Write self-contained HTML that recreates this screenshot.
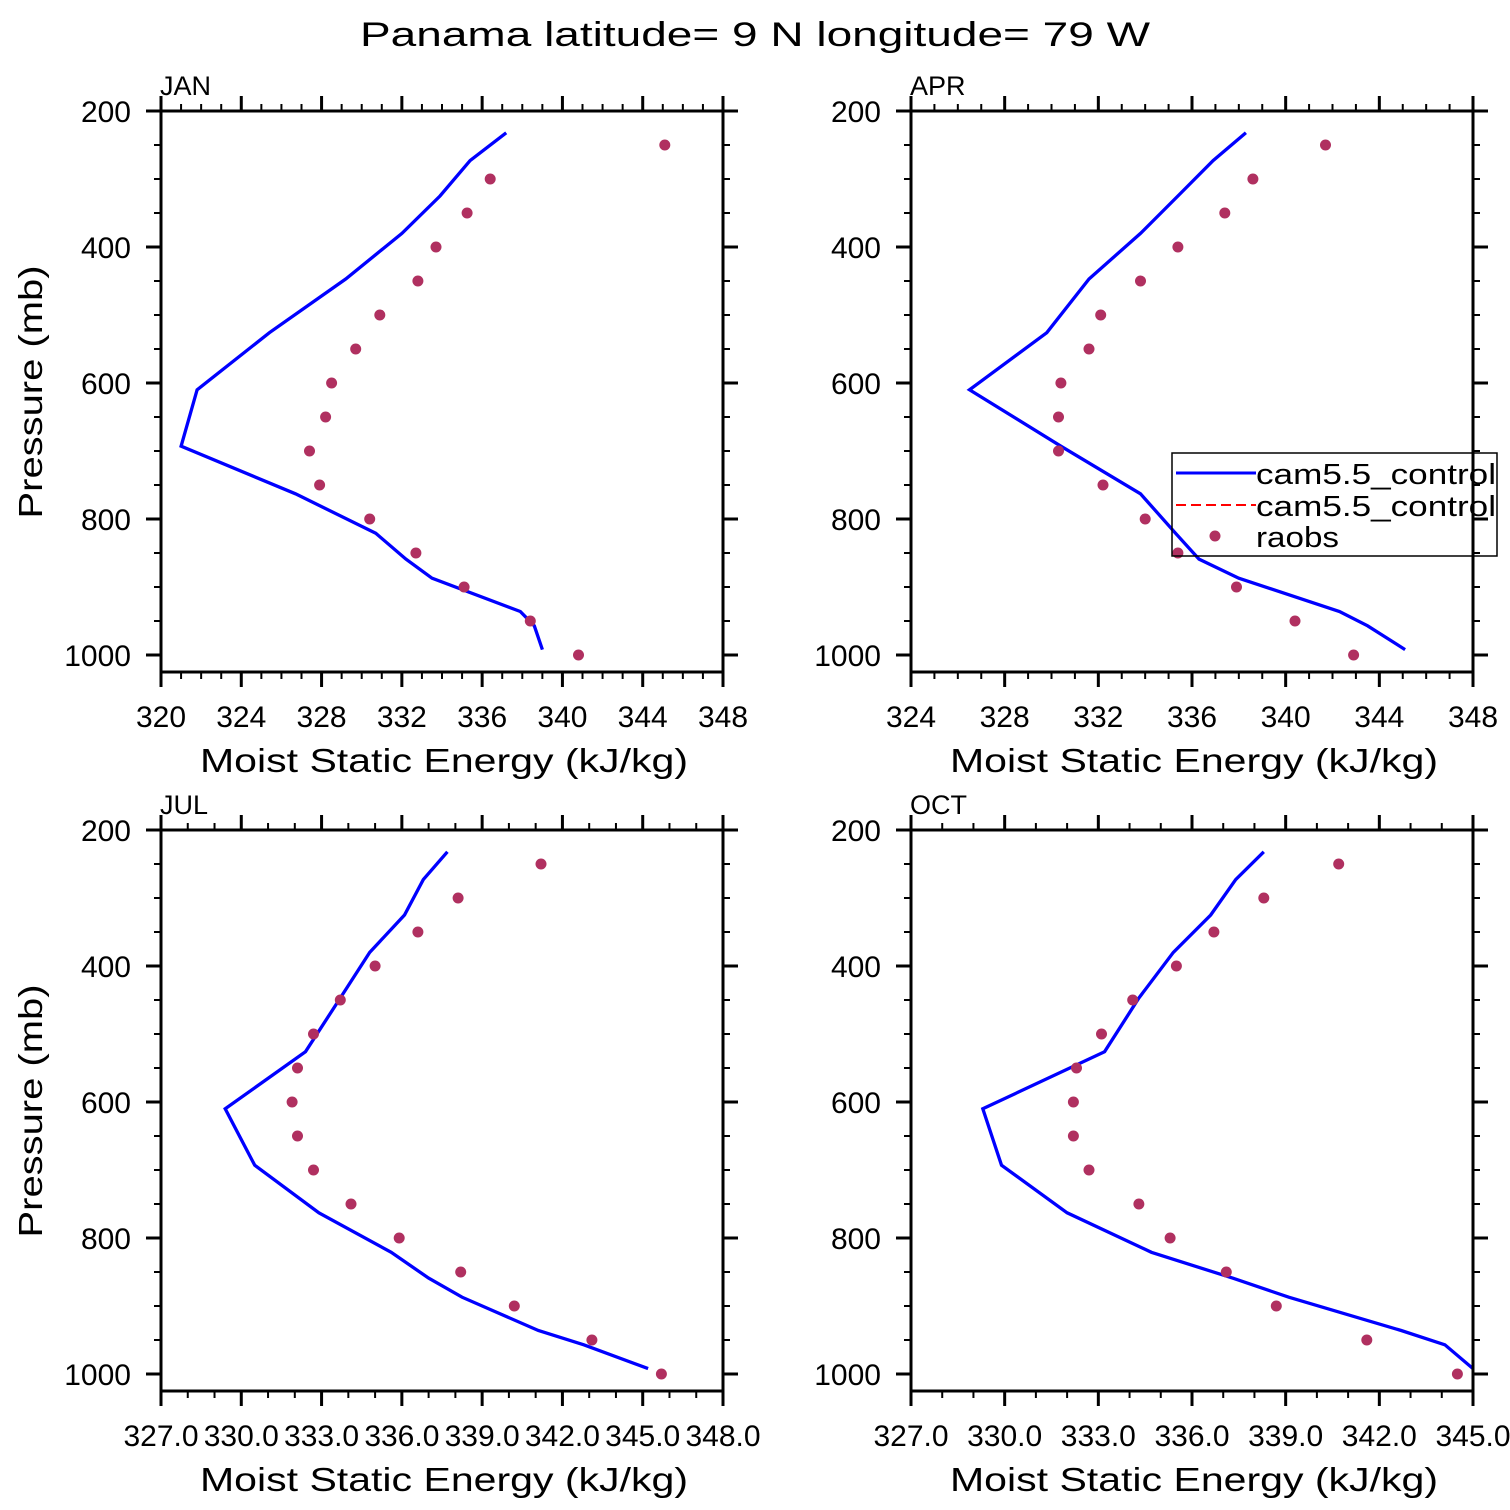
<!DOCTYPE html>
<html><head><meta charset="utf-8"><style>
html,body{margin:0;padding:0;background:#fff}
svg{display:block}
text{font-family:"Liberation Sans",sans-serif;fill:#000}
</style></head><body>
<svg id="chart" width="1510" height="1510" viewBox="0 0 1510 1510" xmlns="http://www.w3.org/2000/svg">
<text x="755" y="46" font-size="34" text-anchor="middle" textLength="790" lengthAdjust="spacingAndGlyphs">Panama  latitude= 9 N longitude= 79 W</text>
</svg>
<script>
// shared model pressure levels (mb) and obs levels
const modelLevels=[232,273,325,380,447,526,610,693,763,821,859,887,936,957,992];
const obsLevels=[250,300,350,400,450,500,550,600,650,700,750,800,850,900,950,1000];
// JAN
const janModel=[337.2,335.4,333.9,332.0,329.2,325.4,321.8,321.0,326.7,330.7,332.2,333.5,337.9,338.6,339.0];
const janObs=[345.1,336.4,335.25,333.7,332.8,330.9,329.7,328.5,328.2,327.4,327.9,330.4,332.7,335.1,338.4,340.8];
const janTicks=["320","324","328","332","336","340","344","348"];
// APR
const aprModel=[338.3,336.9,335.4,333.8,331.6,329.8,326.5,330.4,333.8,335.3,336.3,338.0,342.3,343.5,345.1];
const aprObs=[341.7,338.6,337.4,335.4,333.8,332.1,331.6,330.4,330.3,330.3,332.2,334.0,335.4,337.9,340.4,342.9];
const aprTicks=["324","328","332","336","340","344","348"];
// JUL
const julModel=[337.7,336.8,336.1,334.8,333.7,332.4,329.4,330.5,332.9,335.6,337.0,338.25,341.1,342.8,345.2];
const julObs=[341.2,338.1,336.6,335.0,333.7,332.7,332.1,331.9,332.1,332.7,334.1,335.9,338.2,340.2,343.1,345.7];
const julTicks=["327.0","330.0","333.0","336.0","339.0","342.0","345.0","348.0"];
// OCT
const octModel=[338.3,337.4,336.6,335.4,334.3,333.2,329.3,329.9,332.0,334.7,337.3,339.1,342.7,344.1,345.0];
const octObs=[340.7,338.3,336.7,335.5,334.1,333.1,332.3,332.2,332.2,332.7,334.3,335.3,337.1,338.7,341.6,344.5];
const octTicks=["327.0","330.0","333.0","336.0","339.0","342.0","345.0"];
const yTicks=["200","400","600","800","1000"];

const NS="http://www.w3.org/2000/svg";
const svg=document.getElementById('chart');
function mk(tag,attrs,parent){const e=document.createElementNS(NS,tag);for(const k in attrs)e.setAttribute(k,attrs[k]);(parent||svg).appendChild(e);return e;}

const panels=[
 {id:'jan',label:'JAN',x0:161,y0:111,xmin:320,xmax:348,major:4,minor:1,ticks:janTicks,model:janModel,obs:janObs},
 {id:'apr',label:'APR',x0:911,y0:111,xmin:324,xmax:348,major:4,minor:1,ticks:aprTicks,model:aprModel,obs:aprObs,legend:true},
 {id:'jul',label:'JUL',x0:161,y0:830,xmin:327,xmax:348,major:3,minor:1,ticks:julTicks,model:julModel,obs:julObs},
 {id:'oct',label:'OCT',x0:911,y0:830,xmin:327,xmax:345,major:3,minor:1,ticks:octTicks,model:octModel,obs:octObs}
];
const W=562,H=561,pmin=200,pmax=1025;
panels.forEach(p=>{
 const g=mk('g',{});
 
 
 const xs=v=>p.x0+(v-p.xmin)/(p.xmax-p.xmin)*W;
 const ys=v=>p.y0+(v-pmin)/(pmax-pmin)*H;
 const clipId='clip-'+p.id;
 const cp=mk('clipPath',{id:clipId},g);mk('rect',{x:p.x0,y:p.y0,width:W,height:H},cp);
 const pts=p.model.map((v,i)=>xs(v).toFixed(1)+','+ys(modelLevels[i]).toFixed(1)).join(' ');
 const pl=mk('polyline',{points:pts,fill:'none',stroke:'#0000ff','stroke-width':3.3,'stroke-linejoin':'miter','clip-path':'url(#'+clipId+')'},g);
 
 
 p.obs.forEach((v,i)=>{
  const c=mk('circle',{cx:xs(v).toFixed(1),cy:ys(obsLevels[i]).toFixed(1),r:5.5,fill:'#b03060'},g);
  
  
 });
 const fr=mk('rect',{x:p.x0,y:p.y0,width:W,height:H,fill:'none',stroke:'#000','stroke-width':3},g);
 
 
 for(let v=p.xmin;v<=p.xmax+1e-6;v+=p.minor){
  const isMaj=Math.abs(((v-p.xmin)/p.major)-Math.round((v-p.xmin)/p.major))<1e-6;
  const L=isMaj?15:7,x=xs(v);
  mk('line',{x1:x,x2:x,y1:p.y0+H,y2:p.y0+H+L,stroke:'#000','stroke-width':isMaj?3:2},g);
  mk('line',{x1:x,x2:x,y1:p.y0,y2:p.y0-L,stroke:'#000','stroke-width':isMaj?3:2},g);
 }
 p.ticks.forEach((t,i)=>{
  const tx=mk('text',{x:xs(p.xmin+i*p.major),y:p.y0+H+55,'font-size':30,'text-anchor':'middle'},g);
  tx.textContent=t;
  
  
 });
 for(let v=200;v<=1000;v+=50){
  const isMaj=v%200===0,L=isMaj?15:7,y=ys(v);
  mk('line',{x1:p.x0,x2:p.x0-L,y1:y,y2:y,stroke:'#000','stroke-width':isMaj?3:2},g);
  mk('line',{x1:p.x0+W,x2:p.x0+W+L,y1:y,y2:y,stroke:'#000','stroke-width':isMaj?3:2},g);
 }
 yTicks.forEach(t=>{
  const tx=mk('text',{x:p.x0-30,y:ys(+t)+11,'font-size':30,'text-anchor':'end'},g);
  tx.textContent=t;
  
  
 });
 const xt=mk('text',{x:p.x0+W/2+2,y:p.y0+H+100,'font-size':33,'text-anchor':'middle',textLength:488,lengthAdjust:'spacingAndGlyphs'},g);
 xt.textContent='Moist Static Energy (kJ/kg)';
 
 
 const lb=mk('text',{x:p.x0-1,y:p.y0-16,'font-size':27},g);
 lb.textContent=p.label;
 
 
 if(p.x0<500){
  const yt=mk('text',{x:0,y:0,'font-size':33,'text-anchor':'middle',textLength:253,lengthAdjust:'spacingAndGlyphs',transform:'translate(42,'+(p.y0+281)+') rotate(-90)'},g);
  yt.textContent='Pressure (mb)';
  
  
 }
 if(p.legend){
  const lg=mk('g',{},g);
  
  
  mk('rect',{x:1172,y:453,width:325,height:103,fill:'none',stroke:'#000','stroke-width':1.5},lg);
  mk('line',{x1:1176,x2:1256,y1:473,y2:473,stroke:'#0000ff','stroke-width':3},lg);
  mk('line',{x1:1176,x2:1256,y1:505,y2:505,stroke:'#ff0000','stroke-width':2,'stroke-dasharray':'10,5'},lg);
  mk('circle',{cx:1215,cy:536,r:5.5,fill:'#b03060'},lg);
  [['cam5.5_control',484],['cam5.5_control',516],['raobs',547]].forEach(([s,y])=>{
   const t=mk('text',{x:1256,y:y,'font-size':29,textLength:s.length>6?240:83,lengthAdjust:'spacingAndGlyphs'},lg);
   t.textContent=s;
   
   
  });
 }
});
</script>
</body></html>
